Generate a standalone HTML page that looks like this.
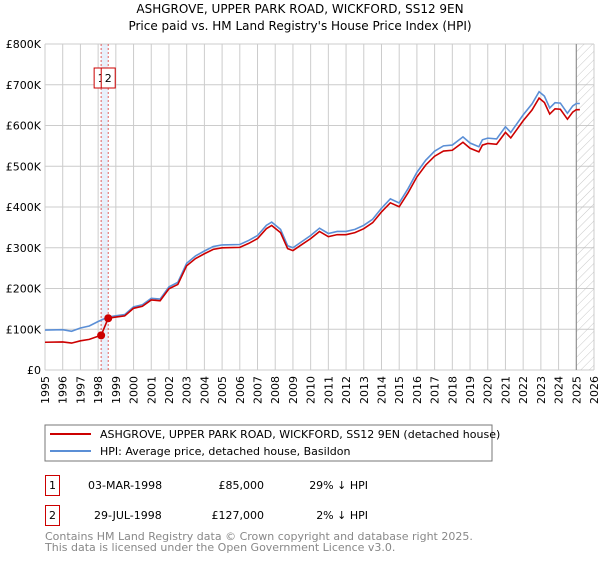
<!DOCTYPE html>
<html><head><meta charset="utf-8"><style>
body{margin:0;background:#fff;font-family:"DejaVu Sans","Liberation Sans",sans-serif}
svg text{font-family:"DejaVu Sans","Liberation Sans",sans-serif}
</style></head><body>
<svg id="chart" width="600" height="560" xmlns="http://www.w3.org/2000/svg">
<defs><pattern id="hatch" width="6" height="6" patternUnits="userSpaceOnUse" patternTransform="rotate(45)"><line x1="0" y1="0" x2="0" y2="6" stroke="#bbb" stroke-width="0.8"/></pattern></defs>
<text x="300" y="13" text-anchor="middle" font-size="12">ASHGROVE, UPPER PARK ROAD, WICKFORD, SS12 9EN</text>
<text x="300" y="30" text-anchor="middle" font-size="12">Price paid vs. HM Land Registry's House Price Index (HPI)</text>
<g id="grid"></g><g id="marks"></g><g id="axes"></g>
<rect x="45" y="425" width="447" height="36" fill="#fff" stroke="#777"/>
<line x1="50" y1="434" x2="91" y2="434" stroke="#cc0000" stroke-width="2"/>
<text x="100" y="438" font-size="11">ASHGROVE, UPPER PARK ROAD, WICKFORD, SS12 9EN (detached house)</text>
<line x1="50" y1="451" x2="91" y2="451" stroke="#5b8fd6" stroke-width="2"/>
<text x="100" y="455" font-size="11">HPI: Average price, detached house, Basildon</text>
<g font-size="11">
<rect x="45.5" y="475.5" width="14" height="20" fill="none" stroke="#cc0000"/>
<text x="52.5" y="489" text-anchor="middle">1</text>
<text x="88" y="489">03-MAR-1998</text>
<text x="264" y="489" text-anchor="end">£85,000</text>
<text x="368" y="489" text-anchor="end">29% ↓ HPI</text>
<rect x="45.5" y="505.5" width="14" height="20" fill="none" stroke="#cc0000"/>
<text x="52.5" y="519" text-anchor="middle">2</text>
<text x="94" y="519">29-JUL-1998</text>
<text x="264" y="519" text-anchor="end">£127,000</text>
<text x="368" y="519" text-anchor="end">2% ↓ HPI</text>
</g>
<text x="45" y="540" font-size="11" fill="#888">Contains HM Land Registry data © Crown copyright and database right 2025.</text>
<text x="45" y="551" font-size="11" fill="#888">This data is licensed under the Open Government Licence v3.0.</text>
</svg>
<script>
const hpiYears=[1995,1996,1996.5,1997,1997.5,1998,1998.57,1999,1999.5,2000,2000.5,2001,2001.5,2002,2002.5,2003,2003.5,2004,2004.5,2005,2006,2006.5,2007,2007.5,2007.8,2008.3,2008.7,2009,2009.5,2010,2010.5,2011,2011.5,2012,2012.5,2013,2013.5,2014,2014.5,2015,2015.5,2016,2016.5,2017,2017.5,2018,2018.6,2019,2019.5,2019.7,2020,2020.5,2021,2021.3,2022,2022.5,2022.9,2023.2,2023.5,2023.8,2024.1,2024.5,2024.8,2025,2025.2];
const hpiValues=[98,99,95,103,108,119,130,133,136,155,160,176,174,204,215,262,280,292,303,307,308,318,330,355,363,345,305,300,315,330,348,335,340,340,345,355,370,397,420,410,445,485,515,537,550,552,572,557,548,565,569,567,597,583,626,653,683,672,643,656,655,630,648,654,654];
const saleDates=[1998.17,1998.57];
const salePrices=[85,127];
const saleLabels=["1","2"];
const yTicks=[0,100,200,300,400,500,600,700,800];
const xTicks=[1995,1996,1997,1998,1999,2000,2001,2002,2003,2004,2005,2006,2007,2008,2009,2010,2011,2012,2013,2014,2015,2016,2017,2018,2019,2020,2021,2022,2023,2024,2025,2026];
const X0=45,X1=594,Y0=370,Y1=44;
const xs=y=>X0+(y-1995)/31*(X1-X0);
const ys=v=>Y0-v/800*(Y0-Y1);
const NS="http://www.w3.org/2000/svg";
function mk(p,t,a){const e=document.createElementNS(NS,t);for(const k in a)e.setAttribute(k,a[k]);p.appendChild(e);return e;}
const grid=document.getElementById('grid'),marks=document.getElementById('marks'),axes=document.getElementById('axes');
const band=mk(grid,'rect',{x:xs(saleDates[0]),y:Y1,width:xs(saleDates[1])-xs(saleDates[0]),height:Y0-Y1,fill:'#e8f0fb'});


for(const t of yTicks){
 const l=mk(grid,'line',{x1:X0,x2:X1,y1:ys(t),y2:ys(t),stroke:'#ccc'});
 
 
 const tx=mk(axes,'text',{x:X0-4,y:ys(t)+4,'text-anchor':'end','font-size':'11'});
 tx.textContent=t===0?'£0':'£'+t+'K';
 
 
}
for(const t of xTicks){
 const l=mk(grid,'line',{x1:xs(t),x2:xs(t),y1:Y1,y2:Y0,stroke:'#ccc'});
 
 
 const tx=mk(axes,'text',{x:0,y:0,'text-anchor':'end','font-size':'11',transform:`translate(${xs(t)+4},${Y0+6}) rotate(-90)`});
 tx.textContent=t;
 
 
}
const fut=mk(grid,'rect',{x:xs(2025),y:Y1,width:X1-xs(2025),height:Y0-Y1,fill:'url(#hatch)'});


const fl=mk(grid,'line',{x1:xs(2025),x2:xs(2025),y1:Y1,y2:Y0,stroke:'#888'});


saleDates.forEach((d,i)=>{
 const l=mk(grid,'line',{x1:xs(d),x2:xs(d),y1:Y1,y2:Y0,stroke:'#e06060','stroke-dasharray':'2,2'});
 
 
});
const hpiPts=hpiYears.map((y,i)=>xs(y)+','+ys(hpiValues[i])).join(' ');
const hp=mk(marks,'polyline',{points:hpiPts,fill:'none',stroke:'#5b8fd6','stroke-width':1.6});


function hpiAt(d){for(let i=1;i<hpiYears.length;i++){if(d<=hpiYears[i]){const f=(d-hpiYears[i-1])/(hpiYears[i]-hpiYears[i-1]);return hpiValues[i-1]+f*(hpiValues[i]-hpiValues[i-1]);}}return hpiValues[hpiValues.length-1];}
const r0=salePrices[0]/hpiAt(saleDates[0]),r1=salePrices[1]/hpiAt(saleDates[1]);
const pp=[];
hpiYears.forEach((y,i)=>{
 if(y<saleDates[0])pp.push([y,hpiValues[i]*r0]);
 else if(y<saleDates[1]){}
 else pp.push([y,hpiValues[i]*r1]);
 if(i+1<hpiYears.length&&y<saleDates[0]&&hpiYears[i+1]>=saleDates[0]){pp.push([saleDates[0],salePrices[0]]);pp.push([saleDates[1],salePrices[1]]);}
});
const pl=mk(marks,'polyline',{points:pp.map(p=>xs(p[0])+','+ys(p[1])).join(' '),fill:'none',stroke:'#cc0000','stroke-width':1.6});


saleDates.forEach((d,i)=>{
 const c=mk(marks,'circle',{cx:xs(d),cy:ys(salePrices[i]),r:4,fill:'#cc0000'});
 
 
 const bx=xs(d)-7;
 const r=mk(marks,'rect',{x:bx,y:68,width:14,height:20,fill:'#fff',stroke:'#cc0000'});
 
 
 const t=mk(marks,'text',{x:bx+7,y:82,'text-anchor':'middle','font-size':'11'});
 t.textContent=saleLabels[i];
 
 
});
</script>
</body></html>
